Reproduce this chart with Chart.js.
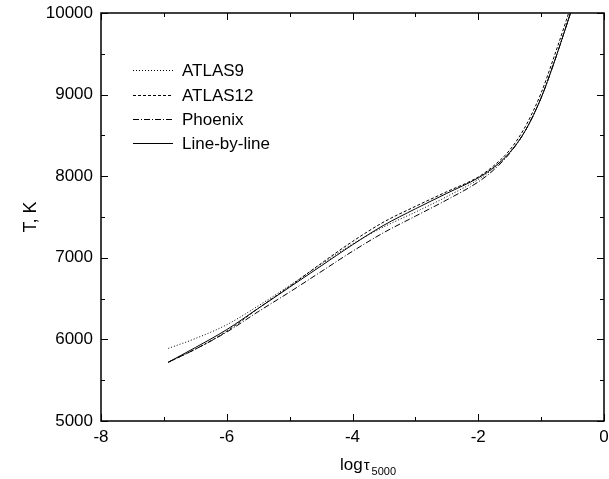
<!DOCTYPE html>
<html>
<head>
<meta charset="utf-8">
<script src="https://cdn.jsdelivr.net/npm/chart.js@4"></script>
<style>
html,body{margin:0;padding:0;background:#fff;}
#wrap{width:609px;height:479px;position:relative;}
</style>
</head>
<body>
<div id="wrap"><canvas id="c" width="609" height="479"></canvas></div>
<script>
const logTau = [-6.93, -6.5, -6, -5.5, -5, -4.5, -4, -3.5, -3, -2.5, -2, -1.75, -1.5, -1.25, -1, -0.8, -0.6, -0.45];
const atlas9 = [5890, 6010, 6180, 6410, 6660, 6920, 7170, 7380, 7560, 7750, 7960, 8100, 8290, 8560, 8960, 9380, 9840, 10200];
const atlas12 = [5720, 5880, 6100, 6380, 6650, 6930, 7200, 7440, 7630, 7810, 7990, 8130, 8320, 8610, 9020, 9450, 9910, 10280];
const phoenix = [5720, 5880, 6090, 6340, 6580, 6830, 7080, 7310, 7510, 7710, 7930, 8080, 8280, 8560, 8960, 9380, 9840, 10200];
const lineByLine = [5720, 5900, 6120, 6380, 6640, 6900, 7160, 7400, 7600, 7790, 7980, 8110, 8290, 8560, 8960, 9380, 9840, 10200];
const seriesNames = ['ATLAS9', 'ATLAS12', 'Phoenix', 'Line-by-line'];
const xTickValues = [-8, -6, -4, -2, 0];
const yTickValues = [5000, 6000, 7000, 8000, 9000, 10000];

const FONT = "'Liberation Sans', Arial, sans-serif";
const pts = arr => arr.map((v, i) => ({x: logTau[i], y: v}));
const dashes = [[1, 2], [3, 2], [6, 2, 1, 2], []];
const seriesData = [atlas9, atlas12, phoenix, lineByLine];

const frame = {
  id: 'frame',
  afterDraw(chart) {
    const ctx = chart.ctx, a = chart.chartArea;
    const xs = chart.scales.x, ys = chart.scales.y;
    ctx.save();
    ctx.strokeStyle = '#000';
    ctx.lineWidth = 1.5;
    ctx.strokeRect(a.left, a.top, a.right - a.left, a.bottom - a.top);
    ctx.lineWidth = 1;
    ctx.beginPath();
    for (let v = -8; v <= 0; v += 1) {
      const px = Math.round(xs.getPixelForValue(v)) + 0.5;
      const len = (v % 2 === 0) ? 7 : 4;
      ctx.moveTo(px, a.bottom); ctx.lineTo(px, a.bottom - len);
      ctx.moveTo(px, a.top); ctx.lineTo(px, a.top + len);
    }
    for (let v = 5000; v <= 10000; v += 500) {
      const py = Math.round(ys.getPixelForValue(v)) + 0.5;
      const len = (v % 1000 === 0) ? 7 : 4;
      ctx.moveTo(a.left, py); ctx.lineTo(a.left + len, py);
      ctx.moveTo(a.right, py); ctx.lineTo(a.right - len, py);
    }
    ctx.stroke();

    // legend
    const rows = [70, 95, 119, 143];
    chart.data.datasets.forEach((ds, i) => {
      ctx.setLineDash(ds.borderDash || []);
      ctx.beginPath();
      ctx.moveTo(133, rows[i] + 0.5);
      ctx.lineTo(173, rows[i] + 0.5);
      ctx.stroke();
      ctx.setLineDash([]);
      ctx.fillStyle = '#000';
      ctx.font = '17px ' + FONT;
      ctx.textBaseline = 'middle';
      ctx.textAlign = 'left';
      ctx.fillText(ds.label, 182, rows[i] + 1);
    });

    // axis titles
    ctx.textBaseline = 'alphabetic';
    ctx.font = '17px ' + FONT;
    ctx.textAlign = 'left';
    let x0 = 340;
    ctx.fillText('log', x0, 470);
    x0 += ctx.measureText('log').width + 1;
    ctx.font = '15px ' + FONT;
    ctx.fillText('τ', x0, 470);
    x0 += ctx.measureText('τ').width + 2;
    ctx.font = '11px ' + FONT;
    ctx.fillText('5000', x0, 475);

    ctx.save();
    ctx.translate(36, (a.top + a.bottom) / 2);
    ctx.rotate(-Math.PI / 2);
    ctx.font = '18px ' + FONT;
    ctx.textAlign = 'center';
    ctx.fillText('T, K', 0, 0);
    ctx.restore();
    ctx.restore();
  }
};

const zeroPad = s => { s.paddingTop = 0; s.paddingBottom = 0; s.paddingLeft = 0; s.paddingRight = 0; };

new Chart(document.getElementById('c'), {
  type: 'line',
  data: {
    datasets: seriesData.map((d, i) => ({
      label: seriesNames[i],
      data: pts(d),
      borderColor: '#000',
      borderWidth: 1,
      borderDash: dashes[i],
      pointRadius: 0,
      fill: false,
      cubicInterpolationMode: 'monotone'
    }))
  },
  options: {
    responsive: false,
    animation: false,
    devicePixelRatio: 1,
    layout: {padding: {top: 13, right: 5, left: 0, bottom: 0}},
    plugins: {legend: {display: false}, tooltip: {enabled: false}},
    scales: {
      x: {
        type: 'linear', min: -8, max: 0,
        afterBuildTicks: s => { s.ticks = xTickValues.map(v => ({value: v})); },
        afterFit: s => { s.height = 58; zeroPad(s); },
        grid: {display: false, drawTicks: false},
        border: {display: false},
        ticks: {color: '#000', font: {family: FONT, size: 17}, padding: 6, maxRotation: 0,
                callback: v => String(v)}
      },
      y: {
        type: 'linear', min: 5000, max: 10000,
        afterBuildTicks: s => { s.ticks = yTickValues.map(v => ({value: v})); },
        afterFit: s => { s.width = 101; zeroPad(s); },
        grid: {display: false, drawTicks: false},
        border: {display: false},
        ticks: {color: '#000', font: {family: FONT, size: 17}, padding: 8,
                callback: v => String(v)}
      }
    }
  },
  plugins: [frame]
});
</script>
</body>
</html>
